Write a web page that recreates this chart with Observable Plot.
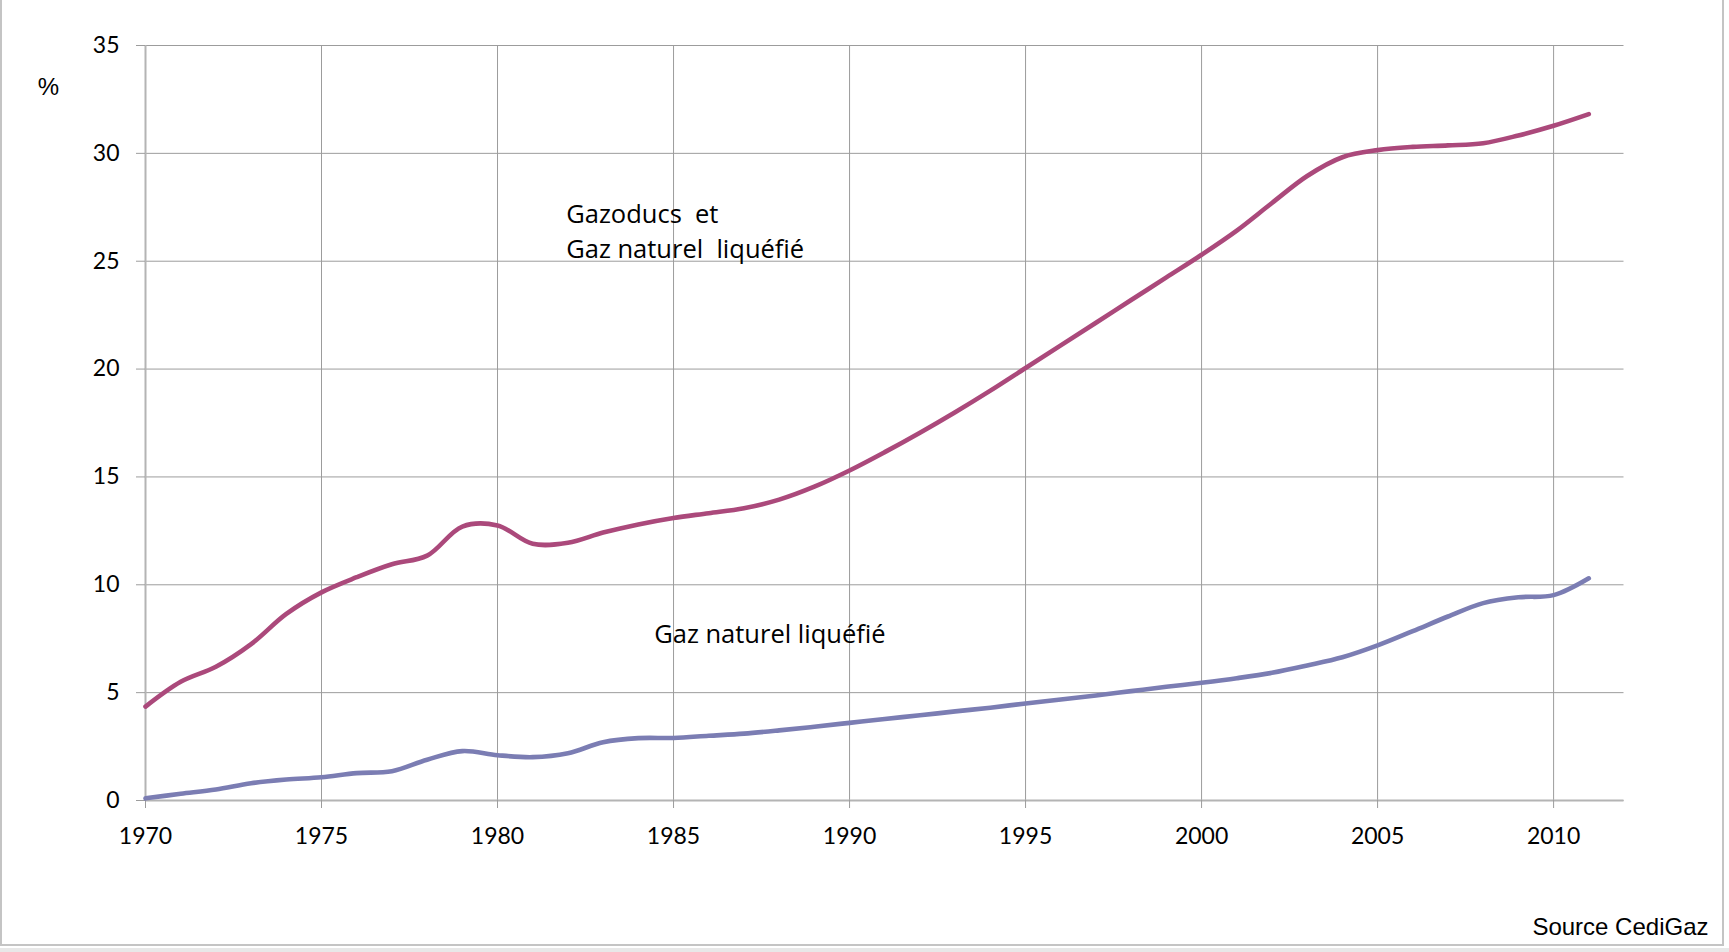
<!DOCTYPE html>
<html>
<head>
<meta charset="utf-8">
<script src="https://cdn.jsdelivr.net/npm/d3@7"></script>
<script src="https://cdn.jsdelivr.net/npm/@observablehq/plot@0.6"></script>
<style>
  html, body { margin: 0; padding: 0; background: #fff; }
  #wrap { position: relative; width: 1729px; height: 952px; overflow: hidden; }
  #frame { position: absolute; left: 0; top: -5px; width: 1724px; height: 951px;
           border-left: 2px solid #c4c4c4; border-right: 2px solid #c4c4c4; border-bottom: 2px solid #c4c4c4;
           box-sizing: border-box; pointer-events: none; }
  #below { position: absolute; left: 0; top: 948px; width: 1729px; height: 4px; background: #e8e8e8; }
</style>
</head>
<body>
<div id="wrap"><div id="chart"></div><div id="frame"></div><div id="below"></div></div>
<script>
// ---- data ----
const years = [1970,1971,1972,1973,1974,1975,1976,1977,1978,1979,1980,1981,1982,1983,1984,1985,1986,1987,1988,1989,1990,1991,1992,1993,1994,1995,1996,1997,1998,1999,2000,2001,2002,2003,2004,2005,2006,2007,2008,2009,2010,2011];
const gazoducsGnl = [4.35,5.5,6.2,7.25,8.65,9.65,10.35,10.95,11.35,12.7,12.75,11.9,11.95,12.42,12.8,13.1,13.32,13.55,13.95,14.55,15.3,16.15,17.05,18.0,19.0,20.05,21.1,22.15,23.2,24.25,25.3,26.42,27.7,28.95,29.82,30.15,30.3,30.37,30.47,30.83,31.28,31.82];
const gnl = [0.1,0.31,0.51,0.8,0.97,1.08,1.27,1.36,1.89,2.29,2.1,2.01,2.19,2.7,2.89,2.9,3.0,3.1,3.25,3.42,3.6,3.78,3.95,4.13,4.3,4.5,4.68,4.87,5.07,5.27,5.46,5.67,5.92,6.26,6.64,7.19,7.85,8.53,9.15,9.42,9.52,10.3];
const xTicks = [1970,1975,1980,1985,1990,1995,2000,2005,2010];
const yTicks = [0,5,10,15,20,25,30,35];
const labels = [
  {text: "Gazoducs  et\nGaz naturel  liquéfié", year: 1981.95, value: 25.13},
  {text: "Gaz naturel liquéfié", year: 1984.45, value: 7.28}
];

const rowsA = years.map((y, i) => ({year: y, value: gazoducsGnl[i]}));
const rowsB = years.map((y, i) => ({year: y, value: gnl[i]}));

const chart = Plot.plot({
  width: 1729,
  height: 952,
  marginLeft: 145,
  marginRight: 105.5,
  marginTop: 45,
  marginBottom: 152,
  style: {fontFamily: "Lato, 'Open Sans', sans-serif", fontSize: "23px", background: "transparent", color: "#000"},
  x: {domain: [1970, 2012]},
  y: {domain: [0, 35]},
  marks: [
    Plot.gridX(xTicks, {stroke: "#9c9c9c", strokeOpacity: 1, strokeWidth: 1}),
    Plot.gridY(yTicks, {stroke: "#9c9c9c", strokeOpacity: 1, strokeWidth: 1}),
    Plot.ruleX([1970], {stroke: "#b4b4b4", strokeWidth: 2}),
    Plot.ruleY([0], {stroke: "#b4b4b4", strokeWidth: 2}),
    Plot.axisX(xTicks, {tickSize: 8, tickPadding: 19, stroke: "#9c9c9c", fill: "#000", tickFormat: "d", label: null, fontSize: 23}),
    Plot.axisY(yTicks, {tickSize: 9, tickPadding: 17, stroke: "#9c9c9c", fill: "#000", label: null, fontSize: 23}),
    Plot.line(rowsB, {x: "year", y: "value", stroke: "#7b7db3", strokeWidth: 4.6, curve: "catmull-rom"}),
    Plot.line(rowsA, {x: "year", y: "value", stroke: "#ab497b", strokeWidth: 4.6, curve: "catmull-rom"}),
    Plot.text(labels, {x: "year", y: "value", text: "text", textAnchor: "start", lineAnchor: "bottom", lineHeight: 1.38, fontSize: 25.5, fontFamily: "'Open Sans', Lato, sans-serif", fill: "#000"}),
    Plot.text(["%"], {frameAnchor: "top-left", dx: -97, dy: 49, lineAnchor: "bottom", textAnchor: "middle", fontSize: 24, fontFamily: "'Liberation Sans', Arial, sans-serif", fill: "#000"}),
    Plot.text(["Source CediGaz"], {frameAnchor: "bottom-right", dx: 84.5, dy: 134, lineAnchor: "bottom", textAnchor: "end", fontSize: 24, fontFamily: "'Liberation Sans', Arial, sans-serif", fill: "#000"})
  ]
});
document.getElementById("chart").appendChild(chart);
</script>
</body>
</html>
